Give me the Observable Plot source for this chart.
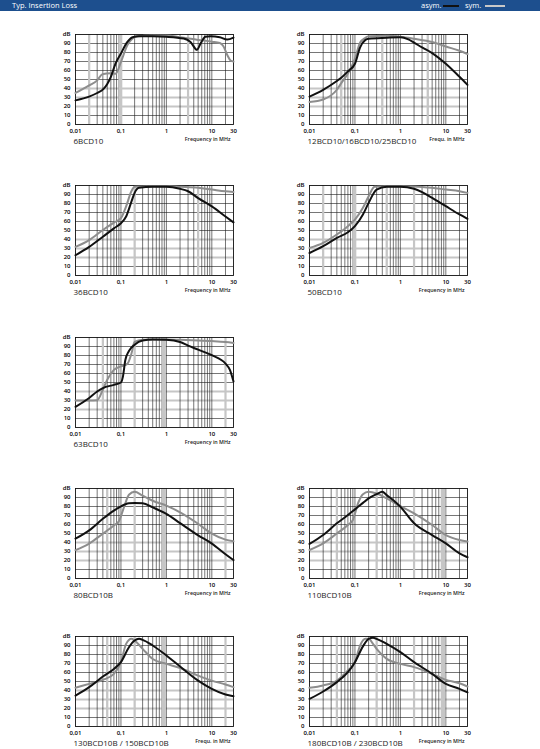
<!DOCTYPE html>
<html><head><meta charset="utf-8">
<script src="https://cdn.jsdelivr.net/npm/d3@7"></script>
<script src="https://cdn.jsdelivr.net/npm/@observablehq/plot@0.6"></script>
<style>
body{margin:0;background:#fff;}
#page{position:relative;width:540px;height:749px;overflow:hidden;font-family:"Open Sans",sans-serif;}
.hdr{position:absolute;left:0;top:0;width:540px;height:11px;background:#1d4f8e;}
.ht{position:absolute;top:0;height:11px;line-height:11px;font-size:7.5px;color:#fff;}
.hl{position:absolute;top:5px;height:1.6px;}
.cell{position:absolute;}
.cell svg{overflow:visible;}
</style></head><body><div id="page">
<div class="hdr"></div>
<div class="ht" style="left:12px">Typ. Insertion Loss</div>
<div class="ht" style="left:421px">asym.</div>
<div class="hl" style="left:443px;width:16px;background:#111"></div>
<div class="ht" style="left:465px">sym.</div>
<div class="hl" style="left:485px;width:20px;background:#c8c8c8"></div>
</div>
<script>
// ---- axis / grid values ----
const xTicks = [0.01, 0.1, 1, 10, 30];
const xTickLabels = ["0,01", "0,1", "1", "10", "30"];
const yTicks = [0, 10, 20, 30, 40, 50, 60, 70, 80, 90, 100];
const gridFreqs = [0.02,0.03,0.04,0.05,0.06,0.07,0.08,0.09,0.1,0.2,0.3,0.4,0.5,0.6,0.7,0.8,0.9,1,2,3,4,5,6,7,8,9,10,20];
const gridDb = [10, 50, 60, 70, 80, 90];
const grayDb = [20, 30, 40];

// ---- chart names and x labels ----
const names = ["6BCD10","12BCD10/16BCD10/25BCD10","36BCD10","50BCD10","63BCD10","80BCD10B","110BCD10B","130BCD10B / 150BCD10B","180BCD10B / 230BCD10B"];
const freqLabels = ["Frequency in MHz","Frequ. in MHz","Frequency in MHz","Frequency in MHz","Frequency in MHz","Frequency in MHz","Frequency in MHz","Frequ. in MHz","Frequency in MHz"];

// ---- 6BCD10 ----
const asymF1 = [0.01,0.015,0.02,0.03,0.042,0.05,0.06,0.076,0.1,0.14,0.18,0.25,0.5,1,2.4,3.4,4.7,5.8,7.2,9.3,15,21.7,30];
const asymV1 = [26.8,29,31,35,39.8,45,53,67.7,79,92,97,98,98,97.5,95.5,91.7,83,91,97.5,98,97,94.4,96.6];
const symF1 = [0.01,0.02,0.03,0.039,0.059,0.076,0.1,0.138,0.18,0.23,0.5,1,2,5,10,15,18,22,26,30];
const symV1 = [35,43.5,49,55.8,57,56.5,69.5,88,95.5,98,99,99,97,94,92,90.5,87,77,71,70];
// ---- 12BCD10 ----
const asymF2 = [0.01,0.02,0.04,0.05,0.07,0.1,0.13,0.17,0.2,0.5,1,1.5,2,3,5,10,20,30];
const asymV2 = [31,38.6,48.4,52,59,67.5,85.6,94,95.3,96.4,97,94.6,91,85.6,79.4,67.5,53,44];
const symF2 = [0.01,0.02,0.04,0.05,0.07,0.1,0.13,0.17,0.2,0.5,1,2,5,10,20,30];
const symV2 = [25,27.8,38.6,46,56.7,73,91,96.4,98,98.5,97.5,95.3,91.7,86.6,82,78.3];
// ---- 36BCD10 ----
const asymF3 = [0.01,0.02,0.04,0.07,0.1,0.13,0.17,0.2,0.25,0.5,1,2,3,5,10,20,30];
const asymV3 = [22.5,31.8,43,52.4,58,65.5,82,91.8,97.4,98.5,98.5,96.3,93.6,86,76.8,65.5,59];
const symF3 = [0.01,0.02,0.04,0.07,0.1,0.13,0.17,0.2,0.5,1,2,5,10,20,30];
const symV3 = [31.8,39.3,50.6,58.8,63.7,76.8,93.6,98.5,99.3,99.3,98.5,97.4,95.5,93.6,92.9];
// ---- 50BCD10 ----
const asymF4 = [0.01,0.02,0.04,0.07,0.1,0.15,0.2,0.3,0.5,1,2,3,5,10,20,30];
const asymV4 = [25,32.6,41.8,48,54.8,67.8,80.7,95.5,98.5,98.5,96.3,92.6,86.3,77,67.8,63];
const symF4 = [0.01,0.02,0.04,0.07,0.1,0.15,0.2,0.27,0.5,1,2,5,10,20,30];
const symV4 = [30.7,36.3,45.6,54.8,62.2,75.2,88,98.5,99.3,99.3,99,97.4,95.5,93.7,91.8];
// ---- 63BCD10 ----
const asymF5 = [0.01,0.02,0.03,0.04,0.07,0.1,0.11,0.125,0.15,0.2,0.3,0.5,1,2,3,5,10,20,25,30];
const asymV5 = [23,32.8,40,43.8,47.4,50,56,75,85,92,96.7,97.8,97.4,95,91,86.5,80.3,71,64,51];
const symF5 = [0.01,0.02,0.03,0.04,0.05,0.07,0.1,0.14,0.17,0.2,0.3,0.5,1,2,5,10,20,30];
const symV5 = [30,30,30.3,42,53,64,68,71,82,95,97.4,97.8,97.8,97.4,96.7,96,95,94];
// ---- 80BCD10B ----
const asymF6 = [0.01,0.02,0.04,0.07,0.1,0.15,0.2,0.3,0.5,1,2,5,10,20,30];
const asymV6 = [44.3,53.5,66.3,75.5,80.2,83.5,83.9,83.5,79,71.8,61.5,48,38.8,27,20.5];
const symF6 = [0.01,0.02,0.04,0.07,0.09,0.12,0.15,0.2,0.3,0.5,1,2,5,10,20,30];
const symV6 = [31.5,38.8,49.8,59,63.7,81,93,96.3,92,86.4,81,73.6,60.8,49.8,43.2,41.4];
// ---- 110BCD10B ----
const asymF7 = [0.01,0.02,0.04,0.07,0.1,0.15,0.2,0.3,0.4,0.5,0.7,1,2,5,10,20,30];
const asymV7 = [38.4,48.3,61.3,70.5,76.8,84,89,93.7,96.3,92.6,87,79.7,61.3,48.3,39,28,23.6];
const symF7 = [0.01,0.02,0.04,0.07,0.09,0.12,0.15,0.2,0.3,0.5,1,2,5,10,20,30];
const symV7 = [31.7,39,50,59.4,65,85,93.7,96.3,94.5,89,80.4,72.3,59.4,48.3,42.8,41];
// ---- 130BCD10B ----
const asymF8 = [0.01,0.02,0.04,0.07,0.1,0.15,0.2,0.25,0.3,0.5,1,2,5,10,20,30];
const asymV8 = [34.4,43.7,55.5,64,71.5,88,95.5,97.4,96.3,90,78.9,66.7,51,41.8,35.5,33.7];
const symF8 = [0.01,0.02,0.04,0.07,0.1,0.13,0.17,0.2,0.3,0.5,1,2,5,10,20,30];
const symV8 = [43,47.4,51.8,58.5,71.5,91.8,97.4,95.5,86.3,75,69.6,65,56.6,51,46.7,43.7];
// ---- 180BCD10B ----
const asymF9 = [0.01,0.02,0.04,0.07,0.1,0.15,0.2,0.25,0.3,0.5,1,2,5,10,20,30];
const asymV9 = [30.7,38.9,49.3,60.4,71.5,89,97.4,98.5,97.4,91.8,82.6,71.5,58.5,47.4,41.8,38];
const symF9 = [0.01,0.02,0.04,0.07,0.1,0.13,0.17,0.2,0.25,0.3,0.5,1,2,5,10,20,30];
const symV9 = [43,45.6,51,62.2,71.5,90,97.4,97.4,91.8,86.3,75.2,69.6,66,58.5,51.8,48,44.4];

// ---- gray reference lines per chart ----
const grayLines = [[0.02,3],[0.05,0.4,4],[0.2,5],[0.02,0.5,2],[0.04,0.2,20],[0.05,0.2,20],[0.04,0.3,2],[0.05,0.2,20],[0.04,0.3,2]];
const grayBands = [[[0.09,0.11]],[],[],[[0.09,0.11]],[[0.8,1]],[[0.8,1]],[[8,10]],[[0.8,1]],[[8,10]]];

const asymF = [asymF1,asymF2,asymF3,asymF4,asymF5,asymF6,asymF7,asymF8,asymF9];
const asymV = [asymV1,asymV2,asymV3,asymV4,asymV5,asymV6,asymV7,asymV8,asymV9];
const symF = [symF1,symF2,symF3,symF4,symF5,symF6,symF7,symF8,symF9];
const symV = [symV1,symV2,symV3,symV4,symV5,symV6,symV7,symV8,symV9];

// layout
const slots = [[0,0],[0,1],[1,0],[1,1],[2,0],[3,0],[3,1],[4,0],[4,1]];
const plotTops = [34, 185, 337, 488, 636];
const colLefts = [50, 284];

const page = document.getElementById("page");
names.forEach((name, i) => {
  const asym = asymF[i].map((f, j) => ({f, v: asymV[i][j]}));
  const sym = symF[i].map((f, j) => ({f, v: symV[i][j]}));
  const svg = Plot.plot({
    width: 190, height: 126,
    marginTop: 8, marginBottom: 28, marginLeft: 25, marginRight: 7,
    style: {fontFamily: "'Open Sans', sans-serif", fontSize: "6px", background: "transparent", overflow: "visible"},
    x: {type: "log", domain: [0.01, 30], label: null},
    y: {domain: [0, 100], label: null},
    marks: [
      Plot.ruleY(grayDb, {stroke: "#c6c6c6", strokeWidth: 1.8}),
      Plot.ruleX(gridFreqs, {stroke: "#1a1a1a", strokeWidth: 0.6}),
      Plot.ruleY(gridDb, {stroke: "#1a1a1a", strokeWidth: 0.6}),
      Plot.rect(grayBands[i], {x1: d => d[0], x2: d => d[1], fill: "#c6c6c6"}),
      Plot.ruleX(grayLines[i], {stroke: "#c6c6c6", strokeWidth: 2.2}),
      Plot.frame({stroke: "#111", strokeWidth: 0.9}),
      Plot.line(sym, {x: "f", y: "v", stroke: "#8d8d8d", strokeWidth: 2, curve: "monotone-x"}),
      Plot.line(asym, {x: "f", y: "v", stroke: "#111", strokeWidth: 2, curve: "monotone-x"}),
      Plot.axisX({ticks: xTicks, tickFormat: d => xTickLabels[xTicks.indexOf(d)], tickSize: 0, tickPadding: 4, fontWeight: 600, label: null}),
      Plot.axisY({ticks: yTicks, tickFormat: d => d === 100 ? "dB" : String(d), tickSize: 0, tickPadding: 5, fontWeight: 600, label: null}),
      Plot.text([name], {text: d => d, frameAnchor: "bottom-left", dx: -2, dy: 19, textAnchor: "start", lineAnchor: "bottom", fontSize: 8, fill: "#222"}),
      Plot.text([freqLabels[i]], {text: d => d, frameAnchor: "bottom-right", dx: -3, dy: 16, textAnchor: "end", lineAnchor: "bottom", fontSize: 5.3, fontWeight: 600, fill: "#222"})
    ]
  });
  const [r, c] = slots[i];
  const div = document.createElement("div");
  div.className = "cell";
  div.style.left = colLefts[c] + "px";
  div.style.top = (plotTops[r] - 8) + "px";
  div.appendChild(svg);
  page.appendChild(div);
});
</script>
</body></html>
